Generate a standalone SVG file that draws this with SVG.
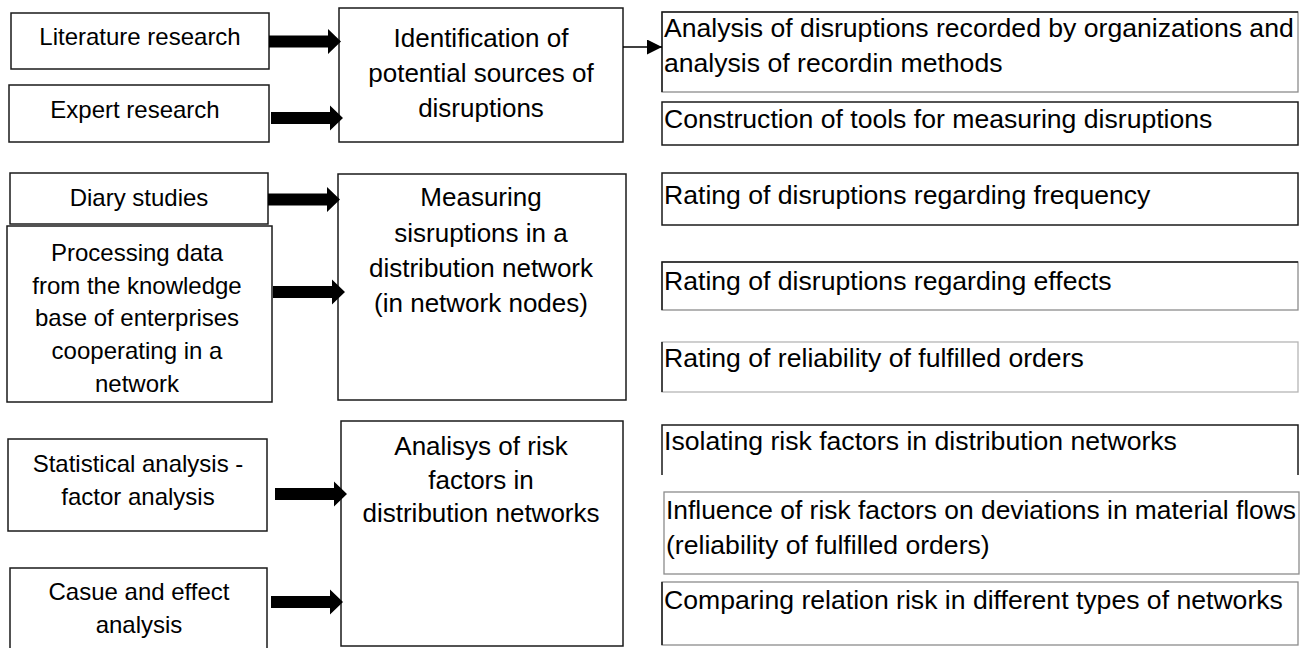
<svg xmlns="http://www.w3.org/2000/svg" xmlns:xlink="http://www.w3.org/1999/xlink" width="1311" height="648" viewBox="0 0 1311 648">
  <style>
    .box { fill: #ffffff; stroke: #1a1a1a; stroke-width: 1.5; }
    .rbox { fill: #ffffff; stroke: #8c8c8c; stroke-width: 1.3; }
    .dark { fill: none; stroke: #1a1a1a; stroke-width: 1.5; }
    .t { font-family: "Liberation Sans", Arial, sans-serif; fill: #000000; }
    .ls { font-size: 24px; text-anchor: middle; }
    .ms { font-size: 26px; text-anchor: middle; }
    .rs { font-size: 26.6px; }
    .blk { fill: #000000; }
    .thin { fill: none; stroke: #000000; stroke-width: 1.5; }
  </style>
  <defs>
    <!-- block arrow, 72 long, pointing right, origin at tail centre -->
    <path id="blockArrow" d="M0 -6 H59 V-12.5 L72 0 L59 12.5 V6 H0 Z"/>
    <marker id="head" viewBox="0 0 10 10" refX="10" refY="5" markerWidth="10" markerHeight="10" markerUnits="strokeWidth" orient="auto">
      <path d="M0 0 L10 5 L0 10 Z" fill="#000000"/>
    </marker>
  </defs>
  <rect x="0" y="0" width="1311" height="648" fill="#ffffff"/>

  <!-- input methods (left column) -->
  <g id="n-literature">
    <rect class="box" x="11" y="13" width="258" height="56"/>
    <text class="t ls" x="140" y="45">Literature research</text>
  </g>
  <g id="n-expert">
    <rect class="box" x="9" y="85" width="260" height="57"/>
    <text class="t ls" x="135" y="118">Expert research</text>
  </g>
  <g id="n-diary">
    <rect class="box" x="10" y="173" width="258" height="51"/>
    <text class="t ls" x="139" y="206">Diary studies</text>
  </g>
  <g id="n-processing">
    <rect class="box" x="7" y="226" width="265" height="176"/>
    <text class="t ls" x="137" y="261">Processing data</text>
    <text class="t ls" x="137" y="294">from the knowledge</text>
    <text class="t ls" x="137" y="326">base of enterprises</text>
    <text class="t ls" x="137" y="359">cooperating in a</text>
    <text class="t ls" x="137" y="392">network</text>
  </g>
  <g id="n-statistical">
    <rect class="box" x="8" y="439" width="259" height="92"/>
    <text class="t ls" x="138" y="472">Statistical analysis -</text>
    <text class="t ls" x="138" y="505">factor analysis</text>
  </g>
  <g id="n-cause">
    <rect class="box" x="10" y="568" width="257" height="84"/>
    <text class="t ls" x="139" y="600">Casue and effect</text>
    <text class="t ls" x="139" y="633">analysis</text>
  </g>

  <!-- research stages (middle column) -->
  <g id="n-identification">
    <rect class="box" x="339" y="8" width="284" height="134"/>
    <text class="t ms" x="481" y="47">Identification of</text>
    <text class="t ms" x="481" y="82">potential sources of</text>
    <text class="t ms" x="481" y="117">disruptions</text>
  </g>
  <g id="n-measuring">
    <rect class="box" x="338" y="174" width="288" height="226"/>
    <text class="t ms" x="481" y="206">Measuring</text>
    <text class="t ms" x="481" y="242">sisruptions in a</text>
    <text class="t ms" x="481" y="277">distribution network</text>
    <text class="t ms" x="481" y="312">(in network nodes)</text>
  </g>
  <g id="n-analysis">
    <rect class="box" x="341" y="421" width="282" height="225"/>
    <text class="t ms" x="481" y="455">Analisys of risk</text>
    <text class="t ms" x="481" y="489">factors in</text>
    <text class="t ms" x="481" y="522">distribution networks</text>
  </g>

  <!-- results (right column) -->
  <g id="n-recorded">
    <rect class="rbox" x="662" y="12" width="636" height="80"/>
    <path class="dark" d="M662 92 V12 H1298"/>
    <text class="t rs" x="664" y="37">Analysis of disruptions recorded by organizations and</text>
    <text class="t rs" x="664" y="72">analysis of recordin methods</text>
  </g>
  <g id="n-tools">
    <rect class="box" x="662" y="102" width="636" height="43"/>
    <text class="t rs" x="664" y="128">Construction of tools for measuring disruptions</text>
  </g>
  <g id="n-frequency">
    <rect class="box" x="662" y="173" width="636" height="52"/>
    <text class="t rs" x="664" y="204">Rating of disruptions regarding frequency</text>
  </g>
  <g id="n-effects">
    <rect class="rbox" x="662" y="262" width="636" height="48"/>
    <path class="dark" d="M662 310 V262 H1298"/>
    <text class="t rs" x="664" y="290">Rating of disruptions regarding effects</text>
  </g>
  <g id="n-reliability">
    <rect class="rbox" x="662" y="342" width="636" height="50" style="stroke:#b5b5b5"/>
    <path class="dark" d="M662 342 V392"/>
    <text class="t rs" x="664" y="367">Rating of reliability of fulfilled orders</text>
  </g>
  <g id="n-isolating">
    <rect x="662" y="425" width="636" height="50" fill="#ffffff"/>
    <path class="dark" d="M662 475 V425 H1298 V475"/>
    <text class="t rs" x="664" y="450">Isolating risk factors in distribution networks</text>
  </g>
  <g id="n-influence">
    <rect class="rbox" x="664" y="492" width="635" height="82"/>
    <text class="t rs" x="666" y="519" textLength="630" lengthAdjust="spacingAndGlyphs">Influence of risk factors on deviations in material flows</text>
    <text class="t rs" x="666" y="554">(reliability of fulfilled orders)</text>
  </g>
  <g id="n-comparing">
    <rect class="rbox" x="662" y="582" width="636" height="63"/>
    <path class="dark" d="M662 582 V645"/>
    <text class="t rs" x="664" y="609">Comparing relation risk in different types of networks</text>
  </g>

  <!-- connectors -->
  <g id="connectors">
    <use xlink:href="#blockArrow" href="#blockArrow" class="blk" x="269" y="41.5"/>
    <use xlink:href="#blockArrow" href="#blockArrow" class="blk" x="271" y="118"/>
    <use xlink:href="#blockArrow" href="#blockArrow" class="blk" x="268" y="199.5"/>
    <use xlink:href="#blockArrow" href="#blockArrow" class="blk" x="273" y="292"/>
    <use xlink:href="#blockArrow" href="#blockArrow" class="blk" x="275" y="494"/>
    <use xlink:href="#blockArrow" href="#blockArrow" class="blk" x="271" y="602"/>
    <path class="thin" d="M623 47 H662" marker-end="url(#head)"/>
  </g>
</svg>
